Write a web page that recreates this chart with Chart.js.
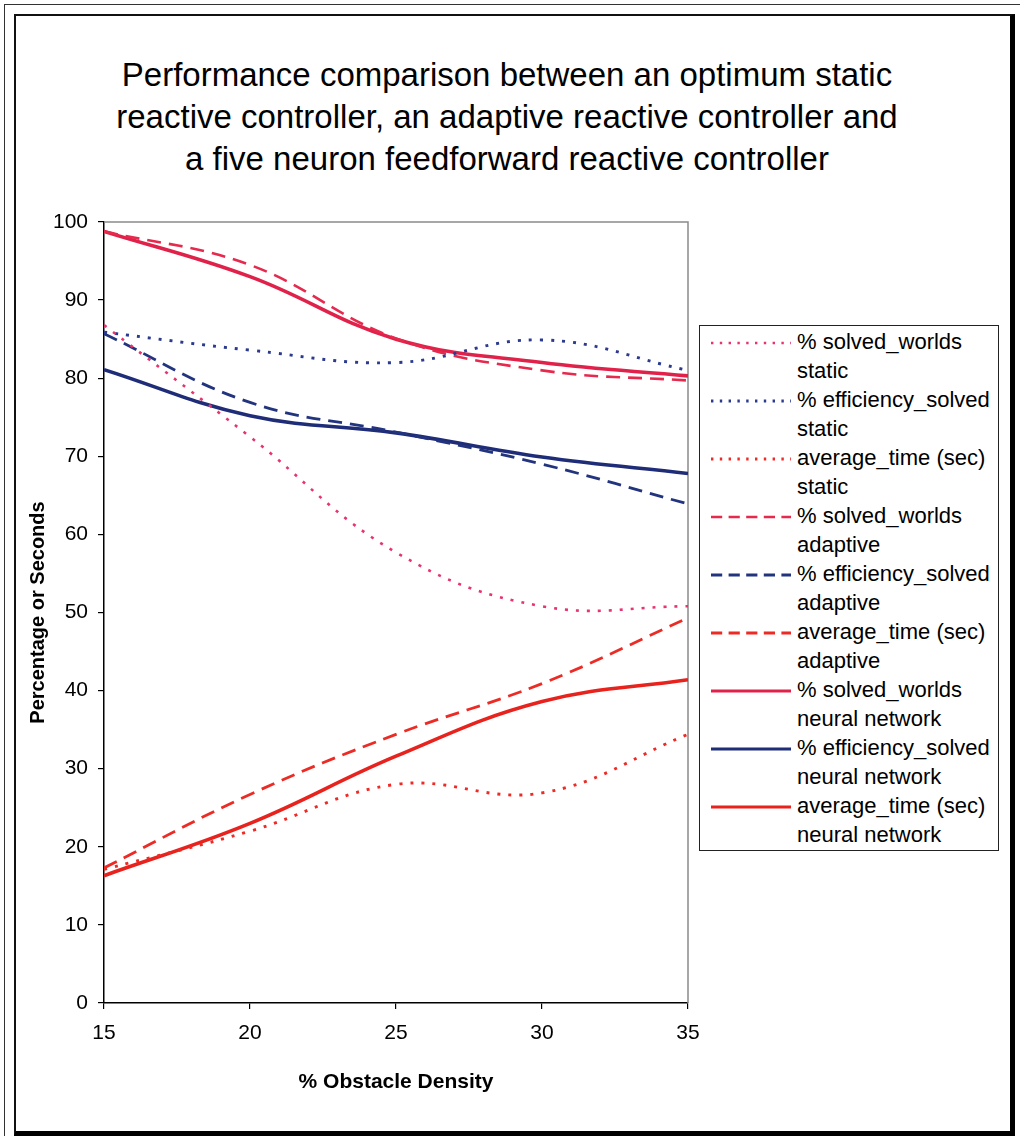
<!DOCTYPE html>
<html>
<head>
<meta charset="utf-8">
<title>Performance comparison</title>
<script src="https://cdn.jsdelivr.net/npm/chart.js@4.4.0/dist/chart.umd.min.js"></script>
<style>
  body { margin: 0; background: #fff; font-family: "Liberation Sans", Arial, sans-serif; }
  #page { position: relative; width: 1020px; height: 1136px; overflow: hidden; background: #fff; }
  #outer { position: absolute; left: 4px; top: 4px; width: 1040px; height: 1160px;
           border-left: 1.5px solid #333; border-top: 1.5px solid #333; }
  #frame { position: absolute; left: 14px; top: 14px; width: 994px; height: 1115px;
           border-left: 2px solid #111; border-top: 2px solid #111;
           border-right: 5px solid #000; border-bottom: 5px solid #000; }
  #title { position: absolute; left: 0; top: 54px; width: 1014px; text-align: center;
           font-size: 33px; line-height: 42px; color: #000; }
  #chart { position: absolute; left: 0; top: 0; }
  #legend { position: absolute; left: 699px; top: 325px; width: 300px; height: 526px;
            border: 1.5px solid #222; background: #fff; box-sizing: border-box; padding-top: 1px; }
  .item { position: relative; height: 58px; }
  .item svg { position: absolute; left: 11px; top: 8px; }
  .item .txt { position: absolute; left: 97px; top: 0; font-size: 22px; line-height: 29px;
               color: #000; white-space: nowrap; }
</style>
</head>
<body>
<div id="page">
  <div id="outer"></div>
  <div id="frame"></div>
  <div id="title">Performance comparison between an optimum static<br>reactive controller, an adaptive reactive controller and<br>a five neuron feedforward reactive controller</div>
  <canvas id="chart" width="1020" height="1136"></canvas>
  <div id="legend"></div>
</div>
<script>
// DATA

const density = [15, 20, 25, 30, 35];
const yTicks = [0, 10, 20, 30, 40, 50, 60, 70, 80, 90, 100];

const staticSolved = [86.8, 72.5, 57.7, 50.8, 50.8];
const staticEfficiency = [85.9, 83.6, 82.0, 84.9, 81.0];
const staticTime = [17.1, 22.0, 28.0, 26.9, 34.4];

const adaptiveSolved = [98.8, 94.5, 85.1, 81.0, 79.7];
const adaptiveEfficiency = [85.7, 76.9, 73.1, 69.0, 63.9];
const adaptiveTime = [17.3, 26.7, 34.4, 40.9, 49.3];

const neuralSolved = [98.8, 93.0, 85.0, 82.0, 80.3];
const neuralEfficiency = [81.1, 75.2, 73.0, 69.9, 67.8];
const neuralTime = [16.3, 23.0, 31.6, 38.6, 41.4];

const seriesNames = [
  ["% solved_worlds", "static"],
  ["% efficiency_solved", "static"],
  ["average_time (sec)", "static"],
  ["% solved_worlds", "adaptive"],
  ["% efficiency_solved", "adaptive"],
  ["average_time (sec)", "adaptive"],
  ["% solved_worlds", "neural network"],
  ["% efficiency_solved", "neural network"],
  ["average_time (sec)", "neural network"]
];

const DOT = [3, 8];
const DASH = [14, 8];

function pts(values) {
  return density.map((d, i) => ({ x: d, y: values[i] }));
}

function line(i, values, color, width, dash) {
  return {
    label: seriesNames[i].join(" "),
    data: pts(values),
    borderColor: color,
    borderWidth: width,
    borderDash: dash,
    pointRadius: 0,
    fill: false,
    tension: 0.4
  };
}

const datasets = [
  line(0, staticSolved, "#e8336e", 2.6, DOT),
  line(1, staticEfficiency, "#2b3a8f", 2.9, DOT),
  line(2, staticTime, "#ee2a24", 2.9, DOT),
  line(3, adaptiveSolved, "#e52a4e", 2.6, DASH),
  line(4, adaptiveEfficiency, "#23347f", 2.8, DASH),
  line(5, adaptiveTime, "#ec2b25", 2.8, DASH),
  line(6, neuralSolved, "#e0224a", 3.6, []),
  line(7, neuralEfficiency, "#1f2c78", 3.6, []),
  line(8, neuralTime, "#e8221d", 3.6, [])
];

// PLOT AREA FRAME (grey top and right edge)

const plotFrame = {
  id: "plotFrame",
  beforeDatasetsDraw(chart) {
    const { ctx, chartArea: a } = chart;
    ctx.save();
    ctx.strokeStyle = "#8a8a8a";
    ctx.lineWidth = 1.5;
    ctx.beginPath();
    ctx.moveTo(a.left, a.top);
    ctx.lineTo(a.right, a.top);
    ctx.lineTo(a.right, a.bottom);
    ctx.stroke();
    ctx.restore();
  }
};

// CHART

const tickFont = { family: "Liberation Sans", size: 21 };

new Chart(document.getElementById("chart"), {
  type: "line",
  data: { datasets: datasets },
  plugins: [plotFrame],
  options: {
    responsive: false,
    devicePixelRatio: 1,
    animation: false,
    layout: { padding: { left: 26, top: 222, right: 332, bottom: 36 } },
    plugins: {
      legend: { display: false },
      title: { display: false },
      tooltip: { enabled: false }
    },
    scales: {
      x: {
        type: "linear",
        min: density[0],
        max: density[density.length - 1],
        afterFit: s => { s.height = 97; },
        ticks: { stepSize: 5, color: "#000", font: tickFont, padding: 12, maxRotation: 0 },
        grid: { drawOnChartArea: false, drawTicks: true, tickLength: 6, color: "#000", lineWidth: 1.2 },
        border: { display: true, color: "#000", width: 1.5 },
        title: {
          display: true,
          text: "% Obstacle Density",
          color: "#000",
          font: { family: "Liberation Sans", size: 21, weight: "bold" },
          padding: { top: 0, bottom: 5 }
        }
      },
      y: {
        min: yTicks[0],
        max: yTicks[yTicks.length - 1],
        afterFit: s => { s.width = 78; },
        afterBuildTicks: s => { s.ticks = yTicks.map(v => ({ value: v })); },
        ticks: { color: "#000", font: tickFont, padding: 10 },
        grid: { drawOnChartArea: false, drawTicks: true, tickLength: 6, color: "#000", lineWidth: 1.2 },
        border: { display: true, color: "#000", width: 1.5 },
        title: {
          display: true,
          text: "Percentage or Seconds",
          color: "#000",
          font: { family: "Liberation Sans", size: 20, weight: "bold" },
          padding: { top: 0, bottom: 0 }
        }
      }
    }
  }
});

// LEGEND (two-line entries like the original)

const legend = document.getElementById("legend");

datasets.forEach((ds, i) => {
  const item = document.createElement("div");
  item.className = "item";
  item.innerHTML =
    '<svg width="80" height="16"><line x1="0" y1="8" x2="80" y2="8" stroke="' + ds.borderColor +
    '" stroke-width="' + Math.min(ds.borderWidth, 3.2) + '" stroke-dasharray="' +
    (ds.borderDash.length ? ds.borderDash.map(v => v * 0.8).join(" ") : "none") + '"/></svg>' +
    '<div class="txt">' + seriesNames[i][0] + "<br>" + seriesNames[i][1] + "</div>";
  legend.appendChild(item);
});
</script>
</body>
</html>
